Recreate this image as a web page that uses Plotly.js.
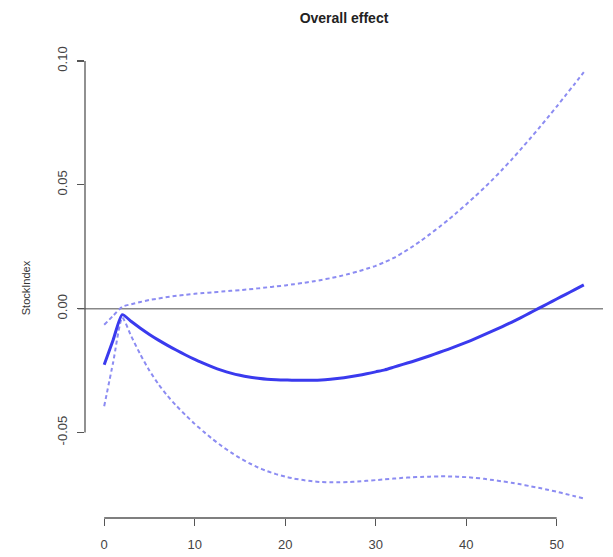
<!DOCTYPE html>
<html>
<head>
<meta charset="utf-8">
<script src="https://cdn.plot.ly/plotly-3.0.1.min.js"></script>
<style>html,body{margin:0;padding:0;background:#fff;}#chart{width:613px;height:557px;}</style>
</head>
<body>
<div id="chart"></div>
<script>
const lags = [];
for (let i = 0; i <= 53; i++) lags.push(i);

const effect = [-0.0226, -0.0125, -0.0024, -0.0052, -0.0079, -0.0104, -0.0127, -0.0148, -0.0168, -0.0187,
  -0.0205, -0.0221, -0.0236, -0.0249, -0.0260, -0.0269, -0.0276, -0.0281, -0.0285, -0.0287,
  -0.0288, -0.0289, -0.0289, -0.0289, -0.0288, -0.0285, -0.0281, -0.0276, -0.0270, -0.0263,
  -0.0255, -0.0247, -0.0236, -0.0225, -0.0214, -0.0202, -0.0190, -0.0177, -0.0164, -0.0150,
  -0.0136, -0.0121, -0.0105, -0.0089, -0.0072, -0.0055, -0.0037, -0.0018, 0.0001, 0.0020,
  0.0039, 0.0058, 0.0077, 0.0096];

const upper = [-0.0065, -0.0028, 0.0008, 0.0018, 0.0027, 0.0035, 0.0041, 0.0047, 0.0052, 0.0056,
  0.0060, 0.0063, 0.0066, 0.0069, 0.0072, 0.0075, 0.0078, 0.0082, 0.0086, 0.0090,
  0.0094, 0.0099, 0.0104, 0.0110, 0.0116, 0.0123, 0.0131, 0.0140, 0.0150, 0.0161,
  0.0173, 0.0188, 0.0205, 0.0226, 0.0249, 0.0274, 0.0301, 0.0329, 0.0358, 0.0389,
  0.0421, 0.0454, 0.0488, 0.0524, 0.0562, 0.0601, 0.0642, 0.0684, 0.0727, 0.0771,
  0.0816, 0.0862, 0.0908, 0.0955];

const lower = [-0.0394, -0.0215, -0.0036, -0.0112, -0.0185, -0.0250, -0.0305, -0.0352, -0.0393, -0.0430,
  -0.0465, -0.0497, -0.0527, -0.0555, -0.0580, -0.0603, -0.0623, -0.0641, -0.0656, -0.0668,
  -0.0678, -0.0686, -0.0692, -0.0697, -0.0700, -0.0701, -0.0701, -0.0700, -0.0698, -0.0695,
  -0.0692, -0.0689, -0.0686, -0.0683, -0.0681, -0.0679, -0.0678, -0.0677, -0.0677, -0.0678,
  -0.0680, -0.0683, -0.0687, -0.0692, -0.0697, -0.0703, -0.0709, -0.0716, -0.0723, -0.0731,
  -0.0739, -0.0748, -0.0757, -0.0766];

const xTicks = [0, 10, 20, 30, 40, 50];
const yTicks = [-0.05, 0.00, 0.05, 0.10];
const yTickText = ["-0.05", "0.00", "0.05", "0.10"];

const font = "Liberation Sans, Arial, sans-serif";

const traces = [
  {x: lags, y: upper, mode: 'lines', line: {color: '#8c8cf2', width: 2, dash: '4px,3px', shape: 'spline', smoothing: 0.6}, hoverinfo: 'skip'},
  {x: lags, y: lower, mode: 'lines', line: {color: '#8c8cf2', width: 2, dash: '4px,3px', shape: 'spline', smoothing: 0.6}, hoverinfo: 'skip'},
  {x: lags, y: effect, mode: 'lines', line: {color: '#3a3aee', width: 3, shape: 'spline', smoothing: 0.6}, hoverinfo: 'skip'}
];

const layout = {
  width: 613, height: 557,
  margin: {l: 85, r: 10, t: 58, b: 39},
  paper_bgcolor: '#fff', plot_bgcolor: '#fff',
  showlegend: false,
  font: {family: font, color: '#444', size: 13},
  title: {text: '<b>Overall effect</b>', font: {family: font, size: 14, color: '#222'},
          x: 0.5, xref: 'paper', y: 1 - 18/557, yref: 'container', yanchor: 'middle'},
  xaxis: {range: [-2.12, 55.12], showgrid: false, zeroline: false, showline: false,
          tickmode: 'array', tickvals: xTicks, ticktext: xTicks.map(String),
          ticks: 'outside', ticklen: 7, tickwidth: 1.3, tickcolor: '#555', ticklabelstandoff: 7,
          tickfont: {family: font, size: 13, color: '#444'}},
  yaxis: {range: [-0.0845, 0.1012], showgrid: false, zeroline: false, showline: false,
          tickmode: 'array', tickvals: yTicks, ticktext: yTickText, tickangle: -90,
          ticks: 'outside', ticklen: 7, tickwidth: 1.3, tickcolor: '#555', ticklabelstandoff: 5,
          tickfont: {family: font, size: 13, color: '#444'},
          title: {text: 'StockIndex', font: {family: font, size: 11, color: '#333'}, standoff: 21}},
  shapes: [
    {type: 'line', xref: 'paper', yref: 'y', x0: -0.0135, x1: 1, y0: 0, y1: 0,
     line: {color: '#888', width: 1.6}, layer: 'below'},
    {type: 'line', xref: 'paper', yref: 'y', x0: 0, x1: 0, y0: yTicks[0], y1: yTicks[yTicks.length-1],
     line: {color: '#555', width: 1.3}},
    {type: 'line', xref: 'x', yref: 'paper', x0: xTicks[0], x1: xTicks[xTicks.length-1], y0: 0, y1: 0,
     line: {color: '#555', width: 1.3}}
  ]
};

Plotly.newPlot('chart', traces, layout, {displayModeBar: false, staticPlot: true});
</script>
</body>
</html>
